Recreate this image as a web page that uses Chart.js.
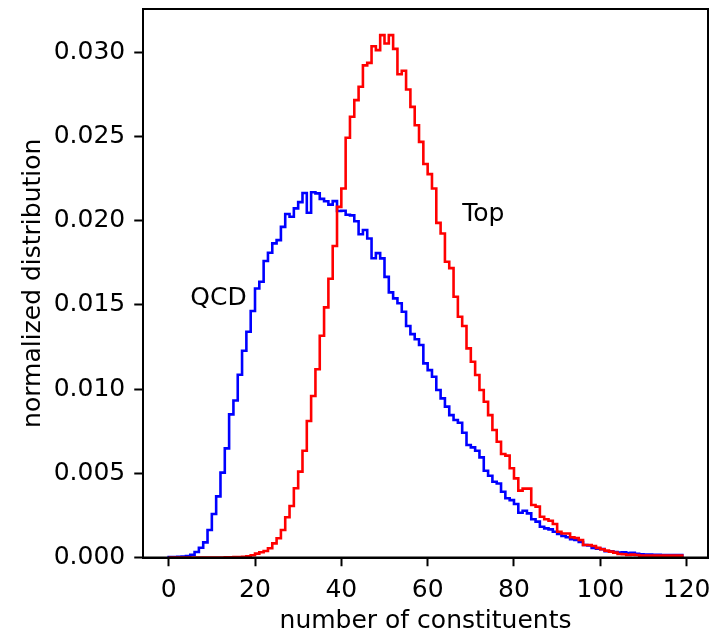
<!DOCTYPE html>
<html>
<head>
<meta charset="utf-8">
<script src="https://cdn.jsdelivr.net/npm/chart.js@4"></script>
<style>
  html, body { margin: 0; padding: 0; background: #ffffff; }
  canvas { display: block; }
</style>
</head>
<body>
<canvas id="c" width="714" height="633"></canvas>
<script>
// ---- data ----
const binStart = 0;
const binCount = 119; // unit-width bins, edges 0..119
const qcdValues = [
  0.00002, 0.00002, 0.00003, 0.00004, 0.00006, 0.00009, 0.00016, 0.00033, 0.00058, 0.00090,
  0.00163, 0.00258, 0.00363, 0.00504, 0.00648, 0.00850, 0.00933, 0.01086, 0.01228, 0.01341,
  0.01464, 0.01598, 0.01638, 0.01761, 0.01810, 0.01866, 0.01885, 0.01964, 0.02040, 0.02024,
  0.02074, 0.02111, 0.02165, 0.02048, 0.02170, 0.02163, 0.02130, 0.02116, 0.02096, 0.02117,
  0.02058, 0.02060, 0.02036, 0.02032, 0.01997, 0.01920, 0.01945, 0.01895, 0.01778, 0.01808,
  0.01777, 0.01667, 0.01575, 0.01539, 0.01510, 0.01460, 0.01375, 0.01327, 0.01296, 0.01262,
  0.01153, 0.01113, 0.01074, 0.00995, 0.00945, 0.00896, 0.00846, 0.00817, 0.00800, 0.00741,
  0.00668, 0.00654, 0.00634, 0.00595, 0.00515, 0.00486, 0.00450, 0.00440, 0.00391, 0.00352,
  0.00341, 0.00318, 0.00266, 0.00278, 0.00262, 0.00227, 0.00213, 0.00183, 0.00173, 0.00167,
  0.00153, 0.00140, 0.00128, 0.00120, 0.00108, 0.00104, 0.00092, 0.00074, 0.00072, 0.00057,
  0.00053, 0.00050, 0.00037, 0.00037, 0.00033, 0.00030, 0.00031, 0.00026, 0.00028, 0.00022,
  0.00019, 0.00018, 0.00017, 0.00016, 0.00016, 0.00015, 0.00015, 0.00014, 0.00014
];
const topValues = [
  0.00000, 0.00000, 0.00000, 0.00000, 0.00000, 0.00000, 0.00000, 0.00000, 0.00000, 0.00000,
  0.00000, 0.00000, 0.00000, 0.00000, 0.00001, 0.00001, 0.00002, 0.00003, 0.00004, 0.00007,
  0.00013, 0.00023, 0.00031, 0.00039, 0.00055, 0.00084, 0.00114, 0.00163, 0.00239, 0.00306,
  0.00411, 0.00510, 0.00634, 0.00811, 0.00959, 0.01118, 0.01317, 0.01486, 0.01656, 0.01850,
  0.02083, 0.02192, 0.02493, 0.02618, 0.02717, 0.02796, 0.02923, 0.02938, 0.03037, 0.03014,
  0.03103, 0.03053, 0.03103, 0.03021, 0.02871, 0.02891, 0.02780, 0.02677, 0.02568, 0.02469,
  0.02337, 0.02277, 0.02192, 0.01988, 0.01925, 0.01757, 0.01719, 0.01549, 0.01430, 0.01375,
  0.01242, 0.01163, 0.01084, 0.00995, 0.00925, 0.00846, 0.00757, 0.00688, 0.00615, 0.00605,
  0.00530, 0.00470, 0.00397, 0.00409, 0.00409, 0.00312, 0.00302, 0.00242, 0.00227, 0.00218,
  0.00199, 0.00153, 0.00143, 0.00143, 0.00120, 0.00116, 0.00104, 0.00074, 0.00074, 0.00068,
  0.00057, 0.00049, 0.00041, 0.00035, 0.00029, 0.00021, 0.00019, 0.00015, 0.00017, 0.00015,
  0.00011, 0.00011, 0.00011, 0.00011, 0.00011, 0.00011, 0.00011, 0.00011, 0.00011
];
const xTickValues = [0, 20, 40, 60, 80, 100, 120];
const yTickValues = [0.000, 0.005, 0.010, 0.015, 0.020, 0.025, 0.030];
const seriesNames = ['QCD', 'Top'];
const seriesLabelPos = [[5, 0.015], [68, 0.020]];
const xTitle = 'number of constituents';
const yTitle = 'normalized distribution';

// ---- build step outlines from bins ----
const binEdges = Array.from({length: binCount + 1}, (_, i) => binStart + i);
function stepPoints(values) {
  const pts = [{x: binEdges[0], y: 0}];
  values.forEach((v, i) => pts.push({x: binEdges[i], y: v}));
  pts.push({x: binEdges[values.length], y: values[values.length - 1]});
  pts.push({x: binEdges[values.length], y: 0});
  return pts;
}

const maxVal = Math.max(...qcdValues, ...topValues);
const xSpan = binEdges[binEdges.length - 1] - binEdges[0];
const FONT = 'DejaVu Sans';
const FS = 25;

const framePlugin = {
  id: 'frame',
  afterDatasetsDraw(chart) {
    const {ctx, chartArea: a, scales} = chart;
    ctx.save();
    ctx.strokeStyle = '#000';
    ctx.lineWidth = 2;
    ctx.strokeRect(a.left, a.top, a.right - a.left, a.bottom - a.top);
    ctx.fillStyle = '#000';
    ctx.font = FS + 'px "' + FONT + '"';
    ctx.textAlign = 'left';
    ctx.textBaseline = 'alphabetic';
    seriesNames.forEach((n, i) => {
      const [px, py] = seriesLabelPos[i];
      ctx.fillText(n, scales.x.getPixelForValue(px), scales.y.getPixelForValue(py));
    });
    ctx.restore();
  }
};

new Chart(document.getElementById('c'), {
  type: 'line',
  data: {
    datasets: [
      { label: seriesNames[1], data: stepPoints(topValues), borderColor: '#ff0000', borderWidth: 2.6, stepped: 'after', pointRadius: 0, fill: false },
      { label: seriesNames[0], data: stepPoints(qcdValues), borderColor: '#0000ff', borderWidth: 2.6, stepped: 'after', pointRadius: 0, fill: false }
    ]
  },
  options: {
    responsive: false,
    devicePixelRatio: 1,
    animation: false,
    layout: { padding: { top: 9, right: 6, left: 0, bottom: 0 } },
    plugins: { legend: { display: false }, tooltip: { enabled: false } },
    scales: {
      x: {
        type: 'linear',
        min: binEdges[0] - 0.05 * xSpan,
        max: binEdges[binEdges.length - 1] + 0.05 * xSpan,
        afterBuildTicks: s => { s.ticks = xTickValues.map(v => ({value: v})); },
        afterFit: s => { s.height = 75.5; s.paddingLeft = 0; s.paddingRight = 0; s.paddingTop = 0; s.paddingBottom = 0; },
        ticks: { font: { family: FONT, size: FS }, color: '#000', padding: 9, maxRotation: 0, autoSkip: false, callback: v => String(v) },
        grid: { display: true, drawOnChartArea: false, drawTicks: true, tickLength: 8.75, tickWidth: 2, tickColor: '#000' },
        border: { display: true, color: '#000', width: 2 },
        title: { display: true, text: xTitle, color: '#000', font: { family: FONT, size: FS, lineHeight: 1.2 }, padding: { top: 0, bottom: -3 } }
      },
      y: {
        type: 'linear',
        min: 0,
        max: maxVal * 1.05,
        afterBuildTicks: s => { s.ticks = yTickValues.map(v => ({value: v})); },
        afterFit: s => { s.width = 143; s.paddingLeft = 0; s.paddingRight = 0; s.paddingTop = 0; s.paddingBottom = 0; },
        ticks: { font: { family: FONT, size: FS }, color: '#000', padding: 9, autoSkip: false, callback: v => Number(v).toFixed(3) },
        grid: { display: true, drawOnChartArea: false, drawTicks: true, tickLength: 8.75, tickWidth: 2, tickColor: '#000' },
        border: { display: true, color: '#000', width: 2 },
        title: { display: true, text: yTitle, color: '#000', font: { family: FONT, size: FS, lineHeight: 1.2 }, padding: { top: 18, bottom: 0 } }
      }
    }
  },
  plugins: [framePlugin]
});
</script>
</body>
</html>
